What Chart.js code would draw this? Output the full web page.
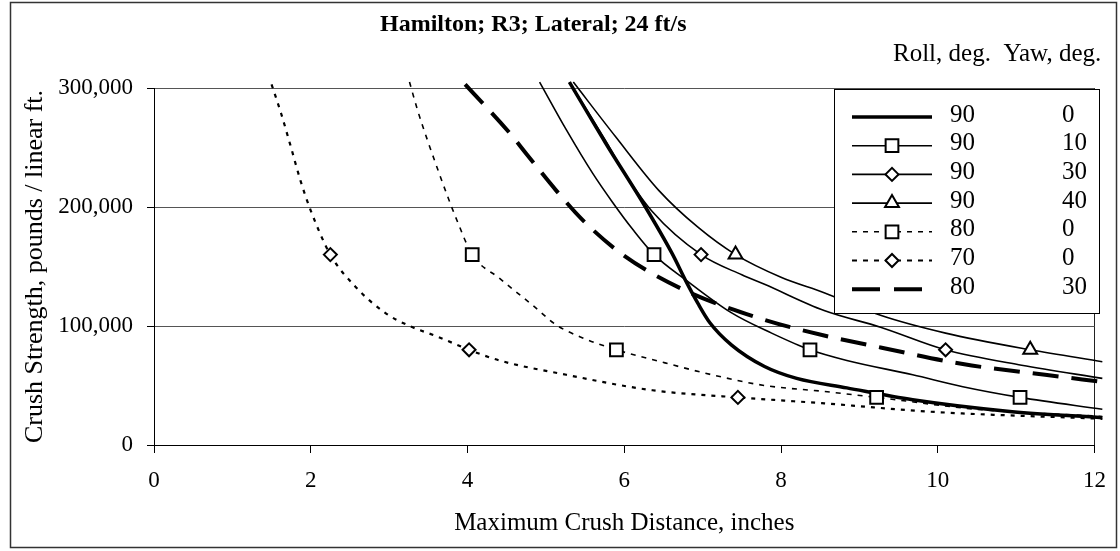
<!DOCTYPE html>
<html>
<head>
<meta charset="utf-8">
<script src="https://cdn.jsdelivr.net/npm/chart.js@4.4.1/dist/chart.umd.min.js"></script>
<style>
  html, body { margin: 0; padding: 0; background: #fff; }
</style>
</head>
<body>
<canvas id="crushChart" width="1120" height="551"></canvas>
<script>
// Legend table values (Roll, Yaw) in the same order as the series below
const rollDeg = [90, 90, 90, 90, 80, 70, 80];
const yawDeg = [0, 10, 30, 40, 0, 0, 30];

// Curve traces: x = max crush distance (in), y = crush strength (lb / linear ft)
const x90_0 = [5.30, 5.76, 6.27, 6.61, 6.80, 6.94, 7.09, 7.37, 7.79, 8.20, 8.84, 9.68, 10.95, 12.1];
const y90_0 = [305000, 254000, 200000, 161000, 136000, 119000, 103000, 84000, 66000, 56000, 48000, 38000, 28000, 23000];

const x90_10 = [4.92, 5.26, 5.60, 5.85, 6.11, 6.38, 6.78, 7.37, 7.88, 8.37, 8.84, 9.68, 10.32, 11.05, 12.1];
const y90_10 = [305000, 265000, 228000, 204000, 181000, 160000, 139000, 111000, 94000, 80000, 71000, 59000, 49000, 40000, 30000];

const x90_30 = [5.30, 5.76, 5.98, 6.36, 6.98, 7.50, 7.79, 8.55, 9.27, 10.10, 11.07, 12.1];
const y90_30 = [305000, 256000, 231000, 196000, 160000, 143000, 135000, 113000, 99000, 80000, 67000, 56000];

const x90_40 = [5.35, 5.89, 6.44, 6.94, 7.42, 8.00, 8.55, 9.27, 10.10, 11.18, 12.1];
const y90_40 = [305000, 259000, 214000, 183000, 160000, 141000, 128000, 109000, 94000, 80000, 70000];

const x80_0 = [3.26, 3.36, 3.49, 3.64, 3.74, 3.87, 4.06, 4.41, 4.84, 5.13, 5.47, 5.90, 6.52, 7.12, 7.79, 8.55, 9.22, 10.5, 12.1];
const y80_0 = [305000, 282000, 256000, 228000, 210000, 188000, 160000, 140000, 117000, 101000, 90000, 80000, 69000, 59000, 50000, 45000, 40000, 30000, 24000];

const x70_0 = [1.50, 1.62, 1.74, 1.87, 2.00, 2.25, 2.57, 2.95, 3.26, 3.62, 4.02, 4.41, 5.26, 6.36, 7.45, 8.55, 9.90, 12.1];
const y70_0 = [303000, 279000, 252000, 222000, 197000, 160000, 133000, 111000, 100000, 91000, 80000, 71000, 59000, 46000, 40000, 35000, 28000, 22000];

const x80_30 = [3.97, 4.54, 4.76, 5.13, 5.47, 5.98, 6.74, 7.70, 8.55, 9.27, 10.32, 11.37, 12.1];
const y80_30 = [303000, 262000, 244000, 214000, 189000, 160000, 131000, 107000, 92000, 82000, 68000, 59000, 53000];

// Marker positions on the curves
const mx90_10 = [6.38, 8.37, 11.05], my90_10 = [160000, 80000, 40000];
const mx90_30 = [6.98, 10.10], my90_30 = [160000, 80000];
const mx90_40 = [7.42, 11.18], my90_40 = [160000, 80000];
const mx80_0 = [4.06, 5.90, 9.22], my80_0 = [160000, 80000, 40000];
const mx70_0 = [2.25, 4.02, 7.45], my70_0 = [160000, 80000, 40000];

// Axis ticks
const xTicks = [0, 2, 4, 6, 8, 10, 12];
const yTicks = [0, 100000, 200000, 300000];

const serif = "'Liberation Serif', 'Times New Roman', serif";
const pts = (xs, ys) => xs.map((x, i) => ({ x: x, y: ys[i] }));

// line style + marker for each series
const series = [
    { xs: x90_0, ys: y90_0, width: 3.5, dash: [], marker: null },
    { xs: x90_10, ys: y90_10, width: 1.6, dash: [], marker: { xs: mx90_10, ys: my90_10, style: 'rect', r: 9 } },
    { xs: x90_30, ys: y90_30, width: 1.6, dash: [], marker: { xs: mx90_30, ys: my90_30, style: 'rectRot', r: 6.5 } },
    { xs: x90_40, ys: y90_40, width: 1.6, dash: [], marker: { xs: mx90_40, ys: my90_40, style: 'triangle', r: 8 } },
    { xs: x80_0, ys: y80_0, width: 1.6, dash: [5, 6], marker: { xs: mx80_0, ys: my80_0, style: 'rect', r: 9 } },
    { xs: x70_0, ys: y70_0, width: 2.2, dash: [4, 6], marker: { xs: mx70_0, ys: my70_0, style: 'rectRot', r: 6.5 } },
    { xs: x80_30, ys: y80_30, width: 4, dash: [26, 13], marker: null }
];

const datasets = [];
series.forEach(s => {
    datasets.push({
        data: pts(s.xs, s.ys),
        showLine: true,
        borderColor: '#000',
        borderWidth: s.width,
        borderDash: s.dash,
        pointRadius: 0,
        cubicInterpolationMode: 'monotone',
        clip: { left: 0, top: 8, right: 10, bottom: 0 },
        order: 2
    });
    if (s.marker) {
        datasets.push({
            data: pts(s.marker.xs, s.marker.ys),
            showLine: false,
            pointStyle: s.marker.style,
            pointRadius: s.marker.r,
            pointBackgroundColor: '#fff',
            pointBorderColor: '#000',
            pointBorderWidth: 2,
            clip: false,
            order: 1
        });
    }
});

// white page + outer frame + header texts
const frame = {
    id: 'frame',
    beforeDraw(chart) {
        const ctx = chart.ctx;
        ctx.save();
        ctx.fillStyle = '#fff';
        ctx.fillRect(0, 0, chart.width, chart.height);
        ctx.strokeStyle = '#333';
        ctx.lineWidth = 1.5;
        ctx.strokeRect(10.5, 2.5, 1106, 545);
        ctx.fillStyle = '#000';
        ctx.textBaseline = 'alphabetic';
        ctx.font = 'bold 24px ' + serif;
        ctx.fillText('Hamilton; R3; Lateral; 24 ft/s', 380, 31);
        ctx.font = '25px ' + serif;
        ctx.fillText('Roll, deg.  Yaw, deg.', 893, 61);
        ctx.restore();
    }
};

// two-column legend box (Roll, Yaw) drawn over the plot
const legendTable = {
    id: 'legendTable',
    afterDraw(chart) {
        const ctx = chart.ctx;
        ctx.save();
        ctx.fillStyle = '#fff';
        ctx.fillRect(834.5, 89.5, 265, 224);
        ctx.strokeStyle = '#000';
        ctx.lineWidth = 1;
        ctx.strokeRect(834.5, 89.5, 265, 224);
        series.forEach((s, i) => {
            const y = 117 + i * 28.7;
            ctx.strokeStyle = '#000';
            ctx.lineWidth = s.width;
            ctx.setLineDash(s.dash.length ? (s.width > 3 ? [28, 14] : [5, 6]) : []);
            ctx.beginPath();
            ctx.moveTo(852, y);
            ctx.lineTo(932, y);
            ctx.stroke();
            ctx.setLineDash([]);
            if (s.marker) {
                ctx.fillStyle = '#fff';
                ctx.lineWidth = 2;
                Chart.helpers.drawPoint(ctx, { pointStyle: s.marker.style, radius: s.marker.r, borderWidth: 2, rotation: 0 }, 892, y);
            }
            ctx.fillStyle = '#000';
            ctx.font = '25px ' + serif;
            ctx.textBaseline = 'middle';
            ctx.textAlign = 'left';
            ctx.fillText(String(rollDeg[i]), 950, y - 2);
            ctx.fillText(String(yawDeg[i]), 1062, y - 2);
        });
        ctx.restore();
    }
};

new Chart(document.getElementById('crushChart').getContext('2d'), {
    type: 'scatter',
    data: { datasets: datasets },
    options: {
        responsive: false,
        animation: false,
        layout: { padding: { left: 10, right: 15, top: 88, bottom: 0 } },
        plugins: { legend: { display: false }, tooltip: { enabled: false } },
        scales: {
            x: {
                type: 'linear',
                min: 0,
                max: 12,
                afterBuildTicks: s => { s.ticks = xTicks.map(v => ({ value: v })); },
                ticks: { color: '#000', font: { family: serif, size: 23 }, padding: 14 },
                grid: {
                    color: c => (c.tick && c.tick.value === 12 ? '#222' : 'rgba(0,0,0,0)'),
                    tickColor: '#000',
                    tickLength: 8
                },
                border: { color: '#000', width: 1 },
                title: {
                    display: true,
                    text: 'Maximum Crush Distance, inches',
                    color: '#000',
                    font: { family: serif, size: 25 },
                    padding: { top: 0, bottom: 13 }
                },
                afterFit: s => { s.height = 106; }
            },
            y: {
                type: 'linear',
                min: 0,
                max: 300000,
                afterBuildTicks: s => { s.ticks = yTicks.map(v => ({ value: v })); },
                ticks: {
                    color: '#000',
                    font: { family: serif, size: 23 },
                    padding: 14,
                    callback: v => v.toLocaleString('en-US')
                },
                grid: { color: '#555', tickColor: '#000', tickLength: 7 },
                border: { color: '#000', width: 1 },
                title: {
                    display: true,
                    text: 'Crush Strength, pounds / linear ft.',
                    color: '#000',
                    font: { family: serif, size: 26 },
                    padding: { top: 10, bottom: 0 }
                },
                afterFit: s => { s.width = 144; }
            }
        }
    },
    plugins: [frame, legendTable]
});
</script>
</body>
</html>
